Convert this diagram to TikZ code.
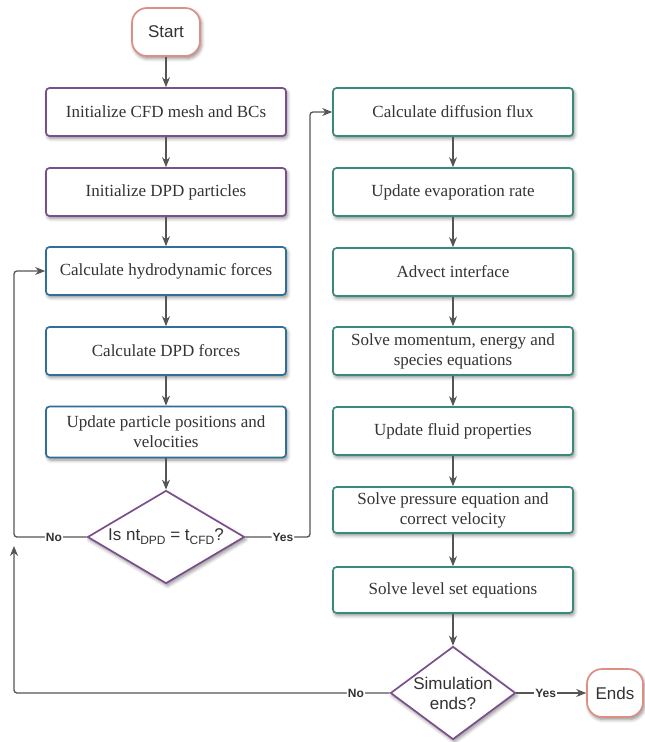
\documentclass[tikz,border=0pt]{standalone}
\usepackage{fontspec}
\setmainfont{Liberation Serif}
\newfontfamily\arialfont{Liberation Sans}
\usetikzlibrary{shapes.geometric,arrows.meta,shadows.blur}

\definecolor{terminal}{HTML}{DC8F84}
\definecolor{initc}{HTML}{7A4F8C}
\definecolor{dpdc}{HTML}{2E7098}
\definecolor{cfdc}{HTML}{3A8A7C}
\definecolor{wire}{HTML}{555555}
\definecolor{ink}{HTML}{333333}

\tikzset{
  softshadow/.style={blur shadow={shadow xshift=1.5pt, shadow yshift=-2.5pt,
      shadow blur steps=6, shadow blur radius=3.5pt, shadow opacity=45}},
  stepbox/.style={draw=#1, line width=1.7pt, fill=white, rounded corners=3.5pt,
      minimum width=240pt, minimum height=48pt, align=center,
      inner sep=2pt, text=ink, font=\fontsize{17}{20}\selectfont, softshadow},
  termbox/.style={draw=terminal, line width=1.7pt, fill=white, rounded corners=15pt,
      minimum height=48pt, inner sep=2pt, text=ink,
      font=\arialfont\fontsize{17}{20}\selectfont, softshadow},
  decision/.style={diamond, draw=initc, line width=1.7pt, fill=white, inner sep=0pt,
      minimum width=#1, minimum height=93pt, softshadow},
  dtext/.style={align=center, text=ink, inner sep=0pt,
      font=\arialfont\fontsize{17}{20}\selectfont},
  flow/.style={draw=wire, line width=1.3pt, -{Stealth[length=10pt,width=8pt]}},
  loop/.style={flow, rounded corners=3pt},
  lbl/.style={fill=white, inner sep=1pt, text=ink,
      font=\arialfont\bfseries\fontsize{12}{14}\selectfont},
}

\newcommand{\lowidx}[1]{\raisebox{-0.45ex}{\fontsize{12}{12}\selectfont #1}}

\begin{document}
\begin{tikzpicture}[x=1pt, y=-1pt]
  \useasboundingbox (0,0) rectangle (645,742);

  % start and end terminals
  \node[termbox, minimum width=68pt] (start) at (166,32) {Start};
  \node[termbox, minimum width=56pt] (ends) at (615,693) {Ends};

  % initialisation
  \node[stepbox=initc] (initcfd) at (166,112) {Initialize CFD mesh and BCs};
  \node[stepbox=initc] (initdpd) at (166,192) {Initialize DPD particles};

  % DPD sub-cycle
  \node[stepbox=dpdc] (hydro) at (166,271) {Calculate hydrodynamic forces};
  \node[stepbox=dpdc] (dpdf) at (166,351) {Calculate DPD forces};
  \node[stepbox=dpdc, minimum height=51pt] (move) at (166,432)
      {Update particle positions and\\velocities};
  \node[decision=157pt] (dpdcheck) at (166,537) {};
  \node[dtext] (dpdchecktxt) at (dpdcheck) {Is nt\lowidx{DPD} = t\lowidx{CFD}?};

  % CFD step
  \node[stepbox=cfdc] (diff) at (453,112) {Calculate diffusion flux};
  \node[stepbox=cfdc] (evap) at (453,192) {Update evaporation rate};
  \node[stepbox=cfdc] (advect) at (453,272) {Advect interface};
  \node[stepbox=cfdc] (momentum) at (453,351) {Solve momentum, energy and\\species equations};
  \node[stepbox=cfdc] (props) at (453,431) {Update fluid properties};
  \node[stepbox=cfdc, minimum height=46pt] (pressure) at (453,510)
      {Solve pressure equation and\\correct velocity};
  \node[stepbox=cfdc, minimum height=46pt] (levelset) at (453,590) {Solve level set equations};
  \node[decision=125pt] (simcheck) at (453,693) {};
  \node[dtext] (simchecktxt) at (simcheck) {Simulation\\ends?};

  % loop-back point on the left rail
  \coordinate (rail) at (14,546);

  % straight connectors
  \draw[flow] (start) -- (initcfd);
  \draw[flow] (initcfd) -- (initdpd);
  \draw[flow] (initdpd) -- (hydro);
  \draw[flow] (hydro) -- (dpdf);
  \draw[flow] (dpdf) -- (move);
  \draw[flow] (move) -- (dpdcheck);
  \draw[flow] (diff) -- (evap);
  \draw[flow] (evap) -- (advect);
  \draw[flow] (advect) -- (momentum);
  \draw[flow] (momentum) -- (props);
  \draw[flow] (props) -- (pressure);
  \draw[flow] (pressure) -- (levelset);
  \draw[flow] (levelset) -- (simcheck);

  % decisions
  \draw[loop] (dpdcheck.west) -- node[lbl, pos=0.45] {No} (14,537) |- (hydro.west);
  \draw[loop] (dpdcheck.east) -- node[lbl, pos=0.58] {Yes} (310,537) |- (diff.west);
  \draw[loop] (simcheck.west) -- node[lbl, pos=0.09] {No} (14,693) -- (rail);
  \draw[flow] (simcheck.east) -- node[lbl, pos=0.42] {Yes} (ends.west);
\end{tikzpicture}
\end{document}
